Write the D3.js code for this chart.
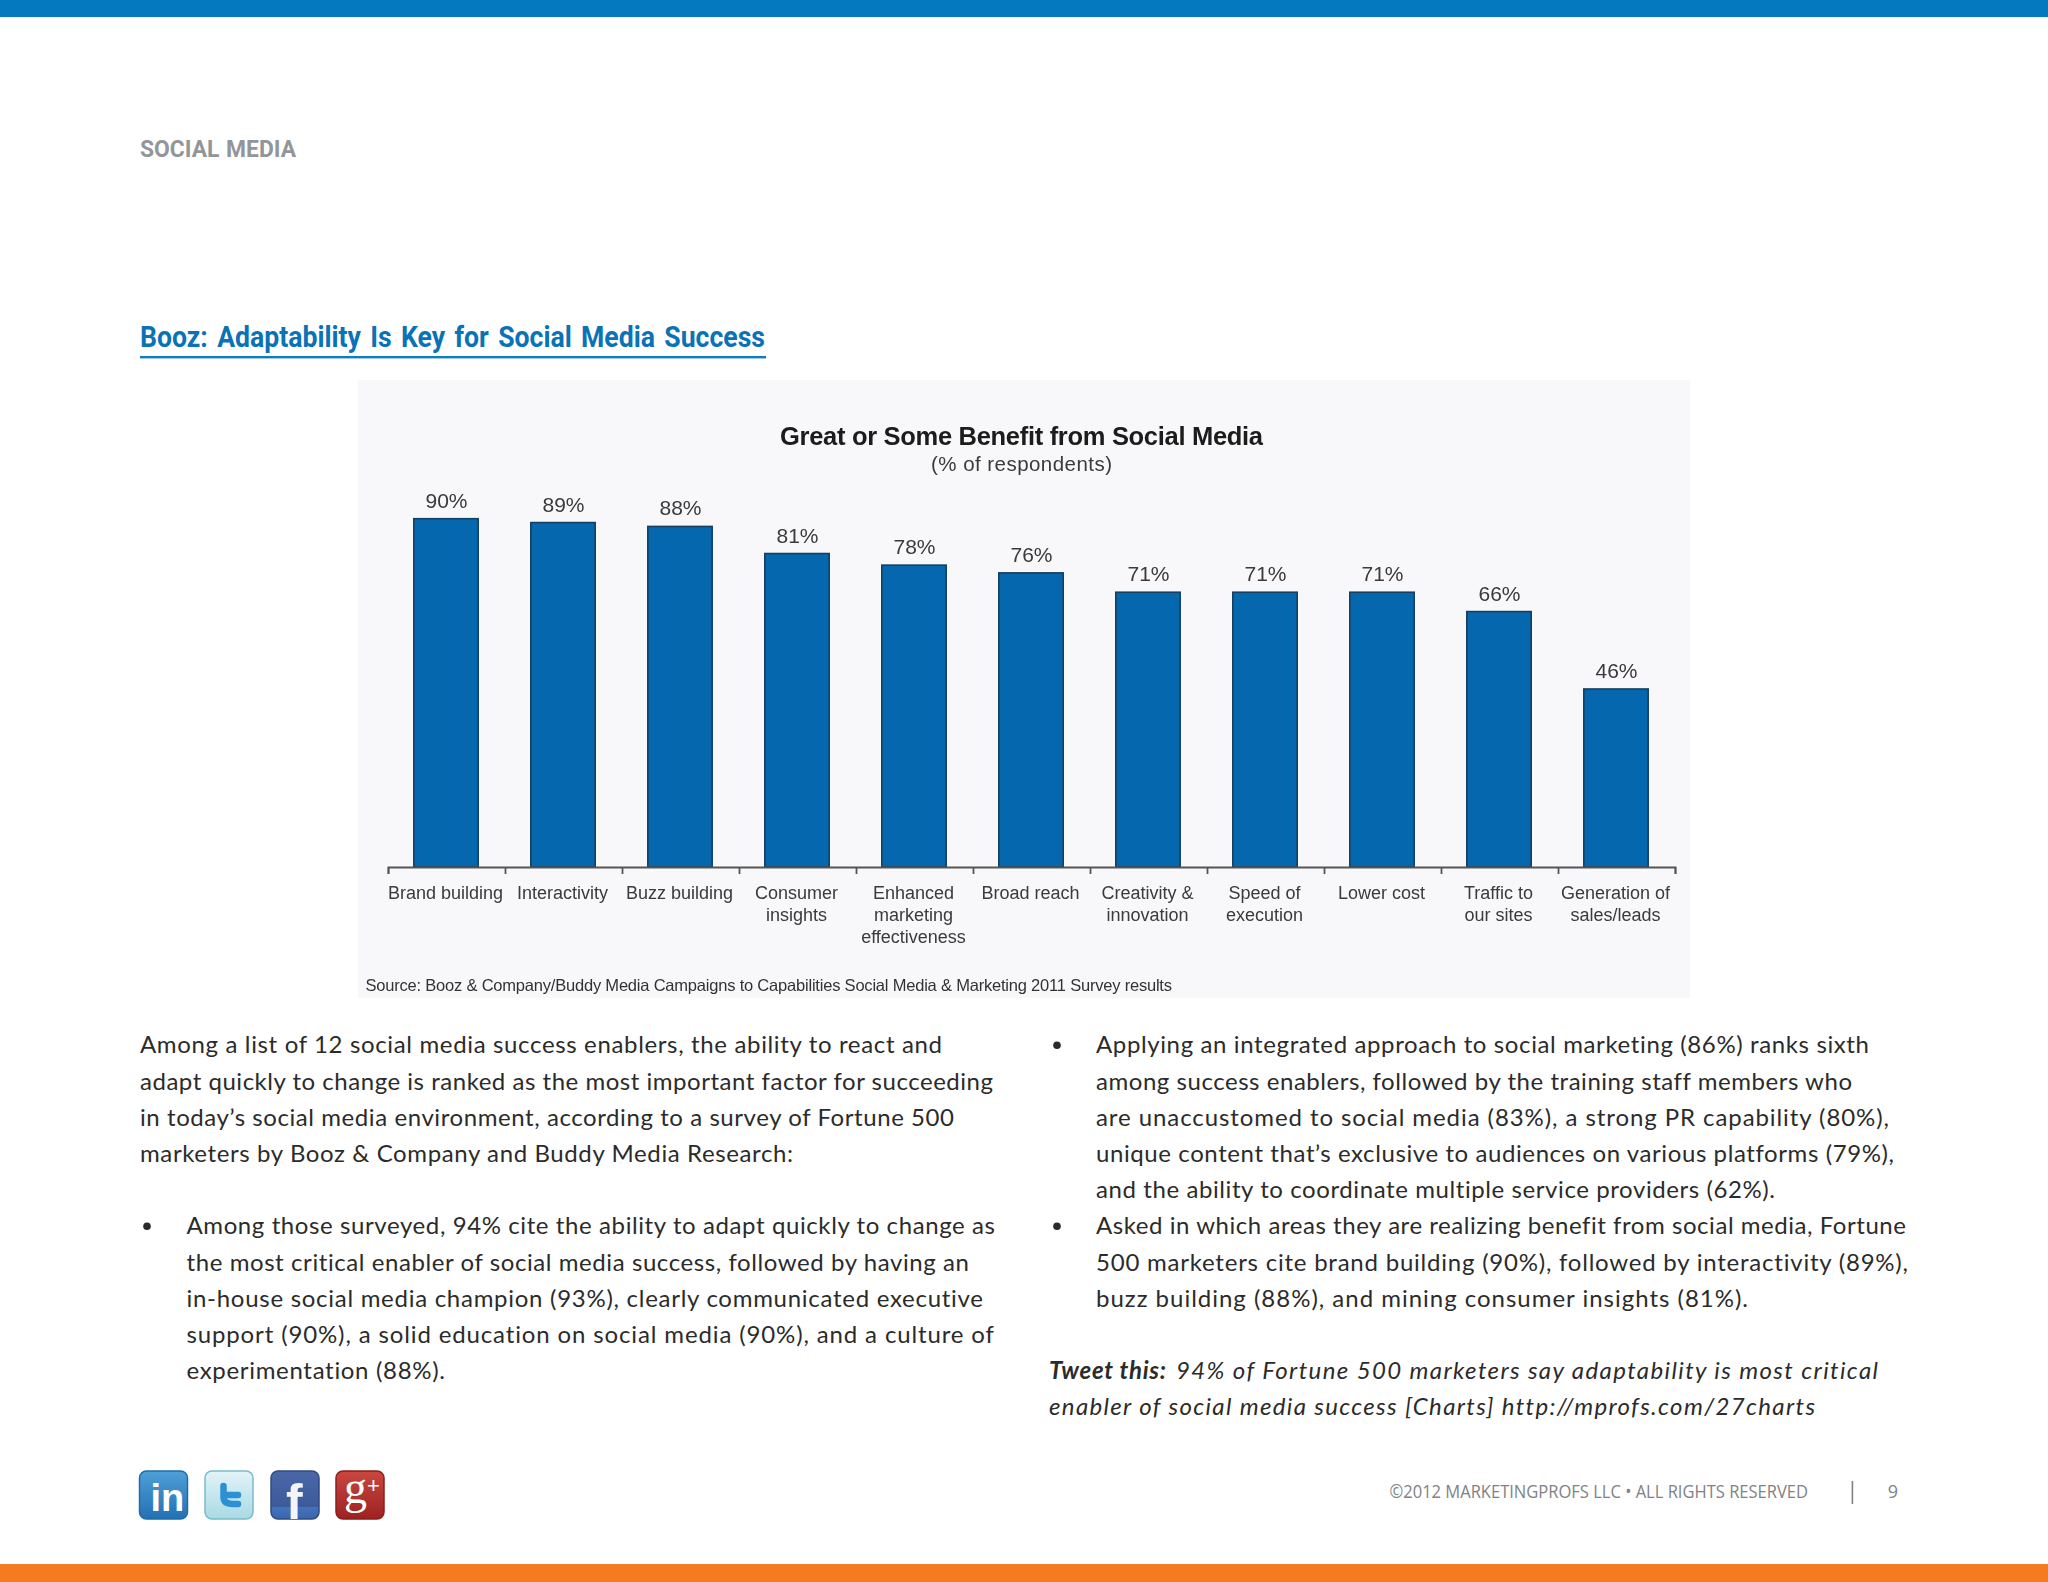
<!DOCTYPE html>
<html><head><meta charset="utf-8">
<script src="https://cdn.jsdelivr.net/npm/d3@7"></script>
<style>html,body{margin:0;padding:0;background:#fff}svg{display:block}text{font-variant-ligatures:none}</style>
</head><body><div id="c"></div>
<script>
const categories = ["Brand building","Interactivity","Buzz building","Consumer insights","Enhanced marketing effectiveness","Broad reach","Creativity & innovation","Speed of execution","Lower cost","Traffic to our sites","Generation of sales/leads"];
const tickLines = [["Brand building"],["Interactivity"],["Buzz building"],["Consumer","insights"],["Enhanced","marketing","effectiveness"],["Broad reach"],["Creativity &","innovation"],["Speed of","execution"],["Lower cost"],["Traffic to","our sites"],["Generation of","sales/leads"]];
const values = [90,89,88,81,78,76,71,71,71,66,46];
const chartTitle = "Great or Some Benefit from Social Media";
const chartSub = "(% of respondents)";
const chartSource = "Source: Booz & Company/Buddy Media Campaigns to Capabilities Social Media & Marketing 2011 Survey results";
const leftIntro = ["Among a list of 12 social media success enablers, the ability to react and","adapt quickly to change is ranked as the most important factor for succeeding","in today’s social media environment, according to a survey of Fortune 500","marketers by Booz & Company and Buddy Media Research:"];
const leftBullet = ["Among those surveyed, 94% cite the ability to adapt quickly to change as","the most critical enabler of social media success, followed by having an","in-house social media champion (93%), clearly communicated executive","support (90%), a solid education on social media (90%), and a culture of","experimentation (88%)."];
const rightBullet1 = ["Applying an integrated approach to social marketing (86%) ranks sixth","among success enablers, followed by the training staff members who","are unaccustomed to social media (83%), a strong PR capability (80%),","unique content that’s exclusive to audiences on various platforms (79%),","and the ability to coordinate multiple service providers (62%)."];
const rightBullet2 = ["Asked in which areas they are realizing benefit from social media, Fortune","500 marketers cite brand building (90%), followed by interactivity (89%),","buzz building (88%), and mining consumer insights (81%)."];

const svg = d3.select("#c").append("svg").attr("width",2048).attr("height",1582).attr("viewBox","0 0 2048 1582");
const BODY = "Lato, 'Open Sans', sans-serif", HEAD = "Roboto, sans-serif", ARIAL = "'Liberation Sans', Arial, sans-serif";

function t(g,s,x,y,o={}){
  const e = g.append("text").attr("x",x).attr("y",y).text(s)
    .attr("font-family",o.f||BODY).attr("font-size",o.s||24).attr("fill",o.c||"#2b2b2b")
    .attr("text-anchor",o.a||"start");
  if(o.w) e.attr("font-weight",o.w);
  if(o.i) e.attr("font-style","italic");
  if(o.end) e.attr("textLength",o.end-x).attr("lengthAdjust",o.adj||"spacing");
  return e;
}

const defs = svg.append("defs");
defs.append("filter").attr("id","soft").attr("x","-5%").attr("y","-5%").attr("width","110%").attr("height","110%")
  .append("feGaussianBlur").attr("stdDeviation",0.4);

// page bands
svg.append("rect").attr("x",0).attr("y",0).attr("width",2048).attr("height",17).attr("fill","#0579c0");
svg.append("rect").attr("x",0).attr("y",1564).attr("width",2048).attr("height",18).attr("fill","#f47b20");

// headings
t(svg,"SOCIAL MEDIA",140,157,{f:HEAD,s:24,w:700,c:"#939598",end:296,adj:"spacingAndGlyphs"}).attr("word-spacing",1);
t(svg,"Booz: Adaptability Is Key for Social Media Success",140,347,{f:HEAD,s:29,w:700,c:"#0a72b6",end:765,adj:"spacingAndGlyphs"}).attr("word-spacing",3);
svg.append("rect").attr("x",140).attr("y",356).attr("width",626).attr("height",2.4).attr("fill","#0d7cc2");

// chart panel
svg.append("rect").attr("x",358).attr("y",380).attr("width",1332).attr("height",618).attr("fill","#f8f8fa");
const chartText = svg.append("g").attr("filter","url(#soft)");
t(chartText,chartTitle,780,444.5,{f:ARIAL,s:25.5,w:700,c:"#1a1a1a",end:1263});
t(chartText,chartSub,931,471,{f:ARIAL,s:20.5,c:"#3a3a3a",end:1112});

const baseY = 867, x0 = 388, x1 = 1675;
const x = d3.scaleBand().domain(categories).range([x0,x1]).paddingInner(0.45).paddingOuter(0.225);
const y = d3.scaleLinear().domain([0,100]).range([baseY,baseY-387]);

svg.append("g").selectAll("rect").data(values).join("rect")
  .attr("x",(d,i)=>x(categories[i])-0.5).attr("y",d=>y(d))
  .attr("width",x.bandwidth()).attr("height",d=>baseY-y(d))
  .attr("fill","#0568ae").attr("stroke","#143f60").attr("stroke-width",1.6);

chartText.append("g").selectAll("text").data(values).join("text")
  .attr("x",(d,i)=>x(categories[i])+x.bandwidth()/2).attr("y",d=>y(d)-11)
  .attr("text-anchor","middle").attr("font-family",ARIAL).attr("font-size",21).attr("fill","#3a3a3a")
  .text(d=>d+"%");

// tick marks at category boundaries
const edges = d3.scaleLinear().domain([0,categories.length]).range([x0,x1]);
const edgeAxis = svg.append("g").attr("transform",`translate(0,${baseY})`)
  .call(d3.axisBottom(edges).tickValues(d3.range(categories.length+1)).tickFormat("").tickSizeInner(7).tickSizeOuter(7));
edgeAxis.selectAll("path,line").attr("stroke","#555").attr("stroke-width",1.8);

// category labels
const labelAxis = chartText.append("g").attr("transform",`translate(0,${baseY})`)
  .call(d3.axisBottom(x).tickSize(0).tickFormat(""));
labelAxis.select("path").remove();
labelAxis.selectAll(".tick text").each(function(d,i){
  const el = d3.select(this).attr("y",0).attr("dy",null).attr("font-family",ARIAL).attr("font-size",18).attr("fill","#3a3a3a").attr("text-anchor","middle");
  tickLines[i].forEach((s,k)=>el.append("tspan").attr("x",-1).attr("y",32.4+k*21.6).text(s));
});
t(chartText,chartSource,365.5,991,{f:ARIAL,s:16.5,c:"#333",end:1172});

// body text
const base = 1053.3, lh = 36.2;
const lines = svg.append("g");
const leftIntroEnd = [942,993,954,793];
leftIntro.forEach((s,i)=>t(lines,s,140,base+i*lh,{end:leftIntroEnd[i]}));
const leftBulletEnd = [995,969,983,994,445];
leftBullet.forEach((s,i)=>t(lines,s,186.5,base+(i+5)*lh,{end:leftBulletEnd[i]}));
lines.append("circle").attr("cx",147).attr("cy",base+5*lh-8).attr("r",3.8).attr("fill","#2b2b2b");
const rb1End = [1869,1852,1889,1894,1775];
rightBullet1.forEach((s,i)=>t(lines,s,1096,base+i*lh,{end:rb1End[i]}));
lines.append("circle").attr("cx",1057).attr("cy",base-8).attr("r",3.8).attr("fill","#2b2b2b");
const rb2End = [1906,1908,1748];
rightBullet2.forEach((s,i)=>t(lines,s,1096,base+(i+5)*lh,{end:rb2End[i]}));
lines.append("circle").attr("cx",1057).attr("cy",base+5*lh-8).attr("r",3.8).attr("fill","#2b2b2b");
t(lines,"Tweet this:",1049,base+9*lh,{w:700,i:true,end:1166});
t(lines,"94% of Fortune 500 marketers say adaptability is most critical",1176,base+9*lh,{i:true,end:1878});
t(lines,"enabler of social media success [Charts] http://mprofs.com/27charts",1049,base+10*lh,{i:true,end:1815});

// footer
t(svg,"©2012 MARKETINGPROFS LLC • ALL RIGHTS RESERVED",1389.5,1498,{f:"'Open Sans', sans-serif",s:18,c:"#808285",end:1808,adj:"spacingAndGlyphs"});
svg.append("rect").attr("x",1851.6).attr("y",1481).attr("width",1.6).attr("height",23).attr("fill","#808285");
t(svg,"9",1893,1498,{f:"'Open Sans', sans-serif",s:18,c:"#808285",a:"middle"});

// social icons
function grad(id,stops){
  const g = defs.append("linearGradient").attr("id",id).attr("x1",0).attr("y1",0).attr("x2",0).attr("y2",1);
  stops.forEach(([o,c])=>g.append("stop").attr("offset",o).attr("stop-color",c));
}
grad("gIn",[[0,"#4f9fd8"],[1,"#2270b2"]]);
grad("gTw",[[0,"#e2f4f8"],[1,"#a9d9e4"]]);
grad("gFb",[[0,"#4a68a8"],[0.74,"#3d5a9b"],[0.74,"#4474bc"],[1,"#3a66ad"]]);
grad("gGp",[[0,"#c9473f"],[1,"#9c2222"]]);
const ic = svg.append("g");
const icons = [[139.5,"gIn","#1e6cab"],[205,"gTw","#78bcc9"],[271,"gFb","#2f4a86"],[336,"gGp","#8f1d1d"]];
icons.forEach(([ix,g,b])=>ic.append("rect").attr("x",ix).attr("y",1471).attr("width",48).attr("height",48).attr("rx",7)
  .attr("fill",`url(#${g})`).attr("stroke",b).attr("stroke-width",1.5));
t(ic,"in",150.5,1511,{f:ARIAL,s:38,w:700,c:"#fff"});
ic.append("path").attr("d","M223.5 1486 V1497 Q223.5 1504 233 1504 H238 M223.5 1495 H238")
  .attr("fill","none").attr("stroke","#2d90d2").attr("stroke-width",6.5).attr("stroke-linecap","round");
t(ic,"f",286,1519,{f:ARIAL,s:50,w:700,c:"#f3f5fa"});
t(ic,"g",344,1503,{f:"'Liberation Serif', serif",s:46,c:"#fff"});
t(ic,"+",367,1493,{f:ARIAL,s:22,c:"#fff"});
</script></body></html>
